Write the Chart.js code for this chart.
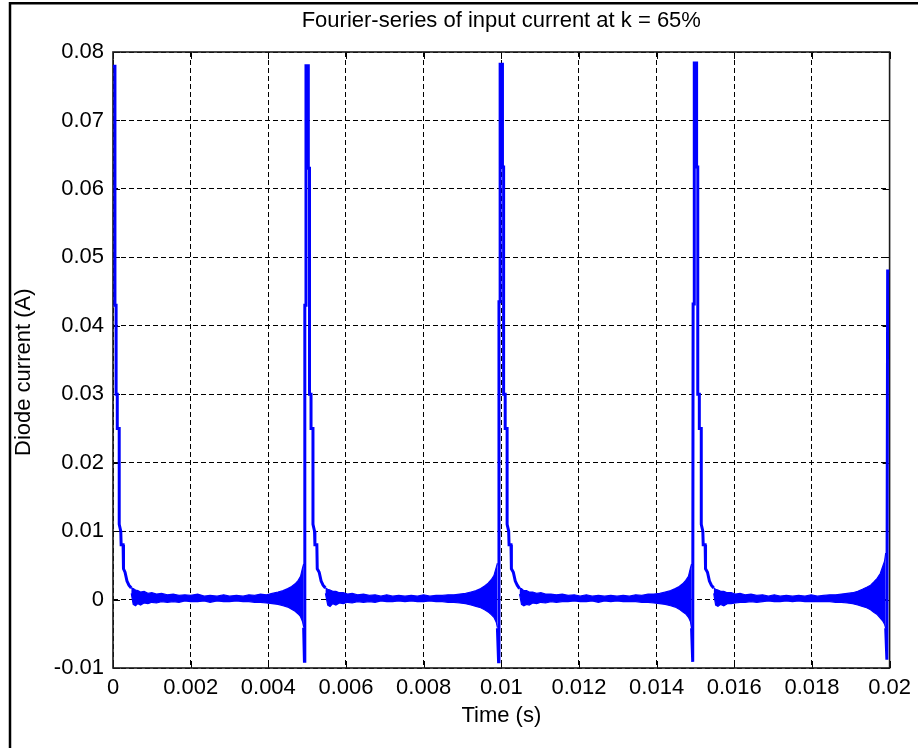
<!DOCTYPE html>
<html>
<head>
<meta charset="utf-8">
<script src="https://cdn.jsdelivr.net/npm/chart.js@4.4.0/dist/chart.umd.min.js"></script>
<style>
html,body{margin:0;padding:0;background:#fff;}
#wrap{width:918px;height:748px;position:relative;}
</style>
</head>
<body>
<div id="wrap"><canvas id="c" width="918" height="748"></canvas></div>
<script>
// ---- text ----
const titleText = 'Fourier-series of input current at k = 65%';
const xTitle = 'Time (s)';
const yTitle = 'Diode current (A)    ';

// ---- ticks ----
const xTicks = [0, 0.002, 0.004, 0.006, 0.008, 0.01, 0.012, 0.014, 0.016, 0.018, 0.02];
const xTickLabels = ['0', '0.002', '0.004', '0.006', '0.008', '0.01', '0.012', '0.014', '0.016', '0.018', '0.02'];
const yTicks = [-0.01, 0, 0.01, 0.02, 0.03, 0.04, 0.05, 0.06, 0.07, 0.08];
const yTickLabels = ['-0.01', '0', '0.01', '0.02', '0.03', '0.04', '0.05', '0.06', '0.07', '0.08'];

// ---- spikes (time s, current A); null separates spikes ----
const spikeT = [
  0, 0.00005, 0.00005, 0.00008, 0.00008, 0.00011, 0.00011, 0.00016, 0.00016, 0.00020, 0.00021, 0.00026, 0.00027, 0.00031, 0.00036, 0.00041, 0.00047,
  null,
  0.00491, 0.00493, 0.00494, 0.00497, 0.00497, 0.00503, 0.00503, 0.00506, 0.00506, 0.00510, 0.00510, 0.00515, 0.00515, 0.00519, 0.00520, 0.00525, 0.00526, 0.00531, 0.00536, 0.00541, 0.00547,
  null,
  0.00990, 0.00993, 0.00994, 0.00997, 0.00997, 0.01003, 0.01003, 0.01006, 0.01006, 0.01010, 0.01010, 0.01015, 0.01015, 0.01019, 0.01020, 0.01025, 0.01026, 0.01031, 0.01036, 0.01041, 0.01047,
  null,
  0.01490, 0.01493, 0.01494, 0.01497, 0.01497, 0.01503, 0.01503, 0.01506, 0.01506, 0.01510, 0.01510, 0.01515, 0.01515, 0.01519, 0.01520, 0.01525, 0.01526, 0.01531, 0.01536, 0.01541, 0.01547,
  null,
  0.01990, 0.01993, 0.01995, 0.02000
];
const spikeY = [
  0.0779, 0.0779, 0.0430, 0.0430, 0.0300, 0.0300, 0.0250, 0.0250, 0.0110, 0.0100, 0.0080, 0.0080, 0.0045, 0.0040, 0.0027, 0.0021, 0.0017,
  null,
  -0.0041, -0.0090, 0.0430, 0.0430, 0.0780, 0.0780, 0.0630, 0.0630, 0.0300, 0.0300, 0.0250, 0.0250, 0.0110, 0.0100, 0.0080, 0.0080, 0.0045, 0.0040, 0.0027, 0.0021, 0.0017,
  null,
  -0.0042, -0.0091, 0.0435, 0.0435, 0.0782, 0.0782, 0.0632, 0.0632, 0.0300, 0.0300, 0.0250, 0.0250, 0.0110, 0.0100, 0.0080, 0.0080, 0.0045, 0.0040, 0.0027, 0.0021, 0.0016,
  null,
  -0.0042, -0.0091, 0.0432, 0.0432, 0.0784, 0.0784, 0.0632, 0.0632, 0.0300, 0.0300, 0.0250, 0.0250, 0.0110, 0.0100, 0.0080, 0.0080, 0.0045, 0.0040, 0.0027, 0.0021, 0.0017,
  null,
  -0.0042, -0.0088, 0.0480, 0.0480
];

// ---- noise band between spikes: upper and lower envelope; null separates periods ----
const noiseT = [
  0.00047, 0.00052, 0.00058, 0.00064, 0.00071, 0.00080, 0.00090, 0.00100, 0.00112, 0.00125, 0.00140, 0.00155, 0.00170, 0.00185, 0.00200, 0.00218, 0.00235, 0.00250, 0.00268, 0.00285, 0.00300, 0.00318, 0.00335, 0.00350, 0.00365, 0.00380, 0.00395, 0.00410, 0.00425, 0.00438, 0.00450, 0.00460, 0.00469, 0.00477, 0.00483, 0.00488, 0.00491,
  null,
  0.00547, 0.00553, 0.00559, 0.00566, 0.00574, 0.00583, 0.00593, 0.00604, 0.00616, 0.00630, 0.00645, 0.00660, 0.00675, 0.00690, 0.00705, 0.00720, 0.00736, 0.00752, 0.00768, 0.00784, 0.00800, 0.00816, 0.00832, 0.00848, 0.00863, 0.00878, 0.00893, 0.00908, 0.00922, 0.00935, 0.00947, 0.00957, 0.00966, 0.00974, 0.00981, 0.00987, 0.00990,
  null,
  0.01047, 0.01052, 0.01058, 0.01065, 0.01072, 0.01081, 0.01091, 0.01102, 0.01114, 0.01128, 0.01142, 0.01157, 0.01172, 0.01188, 0.01203, 0.01219, 0.01234, 0.01250, 0.01266, 0.01282, 0.01298, 0.01314, 0.01330, 0.01346, 0.01362, 0.01378, 0.01393, 0.01408, 0.01422, 0.01436, 0.01448, 0.01458, 0.01467, 0.01475, 0.01482, 0.01487, 0.01490,
  null,
  0.01547, 0.01552, 0.01558, 0.01565, 0.01573, 0.01582, 0.01592, 0.01603, 0.01615, 0.01628, 0.01643, 0.01658, 0.01673, 0.01688, 0.01703, 0.01718, 0.01734, 0.01750, 0.01766, 0.01782, 0.01798, 0.01814, 0.01830, 0.01846, 0.01861, 0.01876, 0.01891, 0.01905, 0.01918, 0.01930, 0.01941, 0.01951, 0.01960, 0.01968, 0.01976, 0.01982, 0.01987, 0.01990
];
const noiseHi = [
  0.0017, 0.0016, 0.0014, 0.0013, 0.0011, 0.0012, 0.0009, 0.0010, 0.0008, 0.0009, 0.0007, 0.0008, 0.0006, 0.0007, 0.0006, 0.0008, 0.0005, 0.0006, 0.0005, 0.0007, 0.0005, 0.0006, 0.0005, 0.0007, 0.0006, 0.0008, 0.0007, 0.0009, 0.0011, 0.0013, 0.0016, 0.0019, 0.0023, 0.0028, 0.0034, 0.0046, 0.0052,
  null,
  0.0017, 0.0015, 0.0014, 0.0012, 0.0012, 0.0010, 0.0010, 0.0008, 0.0009, 0.0007, 0.0008, 0.0006, 0.0007, 0.0005, 0.0007, 0.0005, 0.0006, 0.0005, 0.0006, 0.0005, 0.0007, 0.0005, 0.0006, 0.0006, 0.0007, 0.0007, 0.0008, 0.0009, 0.0011, 0.0013, 0.0016, 0.0020, 0.0024, 0.0029, 0.0035, 0.0047, 0.0053,
  null,
  0.0016, 0.0016, 0.0013, 0.0013, 0.0011, 0.0011, 0.0009, 0.0010, 0.0008, 0.0008, 0.0007, 0.0008, 0.0006, 0.0007, 0.0005, 0.0007, 0.0005, 0.0006, 0.0005, 0.0006, 0.0005, 0.0006, 0.0005, 0.0007, 0.0006, 0.0008, 0.0008, 0.0009, 0.0011, 0.0013, 0.0016, 0.0019, 0.0023, 0.0028, 0.0034, 0.0046, 0.0052,
  null,
  0.0017, 0.0015, 0.0014, 0.0012, 0.0012, 0.0010, 0.0010, 0.0008, 0.0009, 0.0007, 0.0008, 0.0006, 0.0007, 0.0005, 0.0007, 0.0005, 0.0006, 0.0005, 0.0006, 0.0005, 0.0007, 0.0005, 0.0006, 0.0007, 0.0007, 0.0008, 0.0009, 0.0010, 0.0012, 0.0015, 0.0018, 0.0021, 0.0026, 0.0031, 0.0038, 0.0048, 0.0056, 0.0068
];
const noiseLo = [
  0.0009, -0.0007, -0.0009, -0.0006, -0.0008, -0.0005, -0.0006, -0.0004, -0.0005, -0.0003, -0.0004, -0.0003, -0.0004, -0.0002, -0.0003, -0.0003, -0.0002, -0.0004, -0.0002, -0.0003, -0.0003, -0.0002, -0.0003, -0.0003, -0.0004, -0.0004, -0.0005, -0.0006, -0.0007, -0.0009, -0.0011, -0.0014, -0.0017, -0.0021, -0.0025, -0.0032, -0.0040,
  null,
  0.0009, -0.0008, -0.0010, -0.0006, -0.0008, -0.0005, -0.0006, -0.0004, -0.0005, -0.0003, -0.0004, -0.0003, -0.0004, -0.0002, -0.0003, -0.0003, -0.0002, -0.0003, -0.0002, -0.0003, -0.0003, -0.0002, -0.0003, -0.0003, -0.0004, -0.0004, -0.0005, -0.0006, -0.0008, -0.0010, -0.0012, -0.0015, -0.0018, -0.0022, -0.0026, -0.0033, -0.0041,
  null,
  0.0008, -0.0007, -0.0009, -0.0007, -0.0008, -0.0005, -0.0006, -0.0004, -0.0005, -0.0003, -0.0004, -0.0003, -0.0003, -0.0002, -0.0003, -0.0003, -0.0002, -0.0004, -0.0002, -0.0003, -0.0002, -0.0003, -0.0003, -0.0003, -0.0004, -0.0004, -0.0005, -0.0006, -0.0007, -0.0009, -0.0011, -0.0014, -0.0018, -0.0021, -0.0026, -0.0032, -0.0042,
  null,
  0.0009, -0.0008, -0.0010, -0.0007, -0.0009, -0.0006, -0.0006, -0.0005, -0.0004, -0.0004, -0.0003, -0.0004, -0.0003, -0.0002, -0.0003, -0.0003, -0.0002, -0.0003, -0.0002, -0.0003, -0.0003, -0.0003, -0.0003, -0.0003, -0.0004, -0.0004, -0.0005, -0.0006, -0.0008, -0.0010, -0.0012, -0.0015, -0.0019, -0.0022, -0.0027, -0.0031, -0.0036, -0.0042
];

// ---- build datasets ----
const BLUE = '#0000ff';
const FONT = "'Liberation Sans', Arial, Helvetica, sans-serif";

function toPoints(ts, ys) {
  return ts.map((t, i) => (t === null ? {x: null, y: null} : {x: t, y: ys[i]}));
}
function segments(ts, a, b) {
  const out = [];
  let cur = null;
  ts.forEach((t, i) => {
    if (t === null) { cur = null; return; }
    if (!cur) { cur = {hi: [], lo: []}; out.push(cur); }
    cur.hi.push({x: t, y: a[i]});
    cur.lo.push({x: t, y: b[i]});
  });
  return out;
}

const datasets = [];
segments(noiseT, noiseHi, noiseLo).forEach(seg => {
  datasets.push({data: seg.hi, borderColor: BLUE, backgroundColor: BLUE, borderWidth: 1.2, pointRadius: 0, fill: '+1', tension: 0});
  datasets.push({data: seg.lo, borderColor: BLUE, backgroundColor: BLUE, borderWidth: 1.2, pointRadius: 0, fill: false, tension: 0});
});
datasets.push({data: toPoints(spikeT, spikeY), borderColor: BLUE, borderWidth: 3, pointRadius: 0, fill: false, tension: 0, spanGaps: false});

const boxPlugin = {
  id: 'box',
  beforeDraw(chart) {
    const ctx = chart.ctx;
    ctx.save();
    ctx.fillStyle = '#ffffff';
    ctx.fillRect(0, 0, chart.width, chart.height);
    ctx.restore();
  },
  beforeDatasetsDraw(chart) {
    const {ctx, chartArea: a, scales} = chart;
    ctx.save();
    ctx.setLineDash([]);
    ctx.strokeStyle = '#000';
    ctx.lineWidth = 1;
    const L = 7;
    ctx.beginPath();
    scales.x.ticks.forEach(t => {
      const p = Math.round(scales.x.getPixelForValue(t.value)) + 0.5;
      ctx.moveTo(p, a.bottom); ctx.lineTo(p, a.bottom - L);
      ctx.moveTo(p, a.top); ctx.lineTo(p, a.top + L);
    });
    scales.y.ticks.forEach(t => {
      const p = Math.round(scales.y.getPixelForValue(t.value)) + 0.5;
      ctx.moveTo(a.left, p); ctx.lineTo(a.left + L, p);
      ctx.moveTo(a.right, p); ctx.lineTo(a.right - L, p);
    });
    ctx.stroke();
    ctx.lineWidth = 1.6;
    ctx.strokeStyle = '#1a1a1a';
    ctx.strokeRect(a.left, a.top, a.right - a.left, a.bottom - a.top);
    ctx.restore();
  },
  afterDraw(chart) {
    const ctx = chart.ctx;
    ctx.save();
    ctx.strokeStyle = '#000';
    ctx.lineWidth = 2.5;
    ctx.beginPath();
    ctx.moveTo(10, chart.height);
    ctx.lineTo(10, 3.2);
    ctx.lineTo(chart.width, 3.2);
    ctx.stroke();
    ctx.restore();
  }
};

new Chart(document.getElementById('c'), {
  type: 'line',
  data: {datasets},
  options: {
    responsive: false,
    animation: false,
    devicePixelRatio: 1,
    layout: {padding: {left: 0, right: 23, top: 0, bottom: 0}},
    plugins: {
      legend: {display: false},
      tooltip: {enabled: false},
      title: {
        display: true,
        text: titleText,
        fullSize: false,
        color: '#000',
        font: {family: FONT, size: 22, weight: 'normal', lineHeight: 1.2},
        padding: {top: 8, bottom: 17.6}
      }
    },
    scales: {
      x: {
        type: 'linear',
        min: 0,
        max: 0.02,
        afterBuildTicks: s => { s.ticks = xTicks.map(v => ({value: v})); },
        afterFit: s => { s.height = 80; },
        ticks: {
          callback: (v, i) => xTickLabels[i],
          autoSkip: false, maxRotation: 0, minRotation: 0,
          color: '#000', padding: 7,
          font: {family: FONT, size: 22, lineHeight: 1.2}
        },
        grid: {color: '#000', lineWidth: 1, drawTicks: false},
        border: {display: false, dash: [5, 3]},
        title: {
          display: true, text: xTitle, color: '#000',
          font: {family: FONT, size: 22, lineHeight: 1.2},
          padding: {top: 0, bottom: 19}
        }
      },
      y: {
        type: 'linear',
        min: -0.01,
        max: 0.08,
        afterBuildTicks: s => { s.ticks = yTicks.map(v => ({value: v})); },
        afterFit: s => { s.width = 113; },
        ticks: {
          callback: (v, i) => yTickLabels[i],
          autoSkip: false,
          color: '#000', padding: 9,
          font: {family: FONT, size: 22, lineHeight: 1.2}
        },
        grid: {color: '#000', lineWidth: 1, drawTicks: false},
        border: {display: false, dash: [5, 3]},
        title: {
          display: true, text: yTitle, color: '#000',
          font: {family: FONT, size: 22, lineHeight: 1.2},
          padding: {top: 11, bottom: 0}
        }
      }
    }
  },
  plugins: [boxPlugin]
});
</script>
</body>
</html>
